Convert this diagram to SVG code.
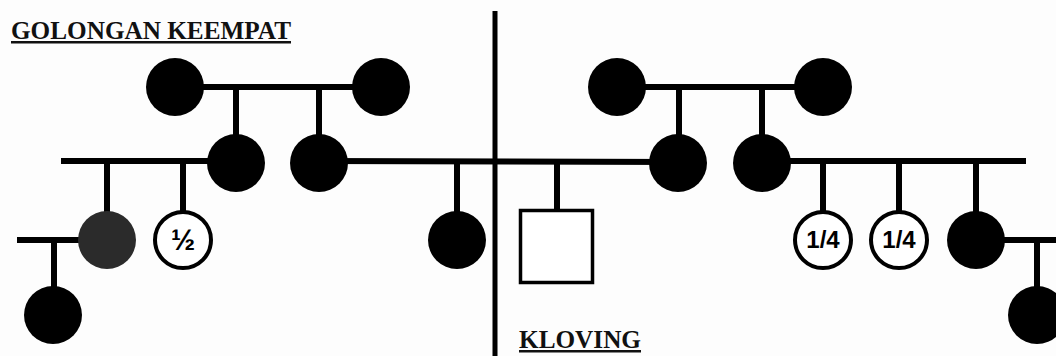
<svg xmlns="http://www.w3.org/2000/svg" width="1056" height="356" viewBox="0 0 1056 356">
<style>
.ln{stroke:#000;stroke-width:6;fill:none}
.fill{fill:#000}
.open{fill:#fff;stroke:#000;stroke-width:4}
.frac{font-family:"Liberation Sans",Arial,sans-serif;font-weight:bold;font-size:24px;text-anchor:middle;fill:#000}
.title{font-family:"Liberation Serif","Times New Roman",serif;font-weight:bold;font-size:25px;fill:#111;text-decoration:underline}
</style>
<rect width="1056" height="356" fill="#fdfdfd"/>
<g id="connectors">
<line class="ln" x1="495" y1="11" x2="495" y2="356" style="stroke-width:5"/>
<line class="ln" x1="175" y1="87" x2="381" y2="87"/>
<line class="ln" x1="236" y1="87" x2="236" y2="163"/>
<line class="ln" x1="319" y1="87" x2="319" y2="163"/>
<line class="ln" x1="61" y1="161" x2="236" y2="161"/>
<line class="ln" x1="319" y1="161" x2="678" y2="162"/>
<line class="ln" x1="107" y1="161" x2="107" y2="240"/>
<line class="ln" x1="183" y1="161" x2="183" y2="212"/>
<line class="ln" x1="457" y1="161" x2="457" y2="240"/>
<line class="ln" x1="557" y1="162" x2="557" y2="210"/>
<line class="ln" x1="17" y1="240" x2="107" y2="240"/>
<line class="ln" x1="54" y1="240" x2="54" y2="315"/>
<line class="ln" x1="617" y1="87" x2="823" y2="87"/>
<line class="ln" x1="679" y1="87" x2="679" y2="163"/>
<line class="ln" x1="762" y1="87" x2="762" y2="163"/>
<line class="ln" x1="762" y1="161" x2="1026" y2="161"/>
<line class="ln" x1="823" y1="161" x2="823" y2="212"/>
<line class="ln" x1="899" y1="161" x2="899" y2="212"/>
<line class="ln" x1="976" y1="161" x2="976" y2="240"/>
<line class="ln" x1="976" y1="240" x2="1056" y2="240"/>
<line class="ln" x1="1037" y1="240" x2="1037" y2="315"/>
</g>
<g id="title-left"><text class="title" x="11" y="39" textLength="280" lengthAdjust="spacingAndGlyphs">GOLONGAN KEEMPAT</text></g>
<g id="title-right"><text class="title" x="519" y="348" textLength="122" lengthAdjust="spacingAndGlyphs">KLOVING</text></g>
<g id="L-gp1"><circle class="fill" cx="175" cy="87" r="29"/></g>
<g id="L-gp2"><circle class="fill" cx="381" cy="87" r="29"/></g>
<g id="L-p1"><circle class="fill" cx="236" cy="163" r="29"/></g>
<g id="L-p2"><circle class="fill" cx="319" cy="163" r="29"/></g>
<g id="L-c1"><circle cx="107" cy="240" r="29" fill="#2b2b2b"/></g>
<g id="L-c2"><circle class="open" cx="183" cy="240" r="28"/><text class="frac" x="183" y="250" style="font-size:29px">½</text></g>
<g id="L-c3"><circle class="fill" cx="457" cy="240" r="29"/></g>
<g id="L-gc"><circle class="fill" cx="53" cy="315" r="29"/></g>
<g id="R-gp1"><circle class="fill" cx="617" cy="87" r="29"/></g>
<g id="R-gp2"><circle class="fill" cx="823" cy="87" r="29"/></g>
<g id="R-p1"><circle class="fill" cx="678" cy="163" r="29"/></g>
<g id="R-p2"><circle class="fill" cx="762" cy="163" r="29"/></g>
<g id="R-sq"><rect x="520.5" y="210.5" width="72" height="72" fill="#fff" stroke="#000" stroke-width="3.5"/></g>
<g id="R-c1"><circle class="open" cx="823" cy="240" r="28"/><text class="frac" x="823" y="248">1/4</text></g>
<g id="R-c2"><circle class="open" cx="899" cy="240" r="28"/><text class="frac" x="899" y="248">1/4</text></g>
<g id="R-c3"><circle class="fill" cx="976" cy="240" r="29"/></g>
<g id="R-gc"><circle class="fill" cx="1037" cy="315" r="29"/></g>
</svg>
